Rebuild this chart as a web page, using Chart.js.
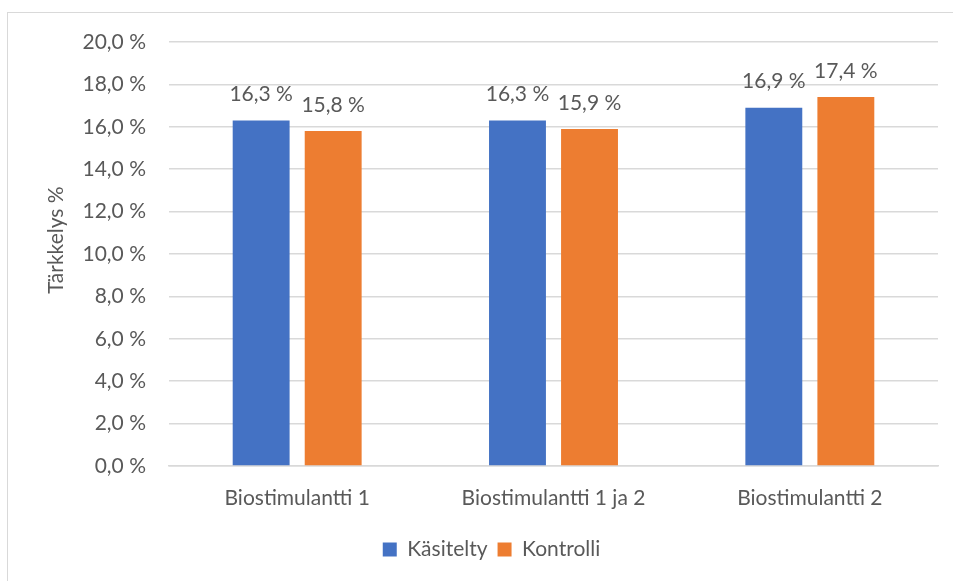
<!DOCTYPE html>
<html>
<head>
<meta charset="utf-8">
<script src="https://cdn.jsdelivr.net/npm/chart.js@4/dist/chart.umd.min.js"></script>
<style>
  html, body { margin: 0; padding: 0; background: #fff; overflow: hidden; }
  #frame { position: absolute; left: 7px; top: 12px; width: 1000px; height: 700px;
           border-left: 1px solid #d9d9d9; border-top: 1px solid #d9d9d9; }
  #wrap { position: absolute; left: 0; top: 0; width: 953px; height: 581px; }
</style>
</head>
<body>
<div id="frame"></div>
<div id="wrap"><canvas id="c" width="953" height="581"></canvas></div>
<script>
const categories = ['Biostimulantti 1', 'Biostimulantti 1 ja 2', 'Biostimulantti 2'];
const seriesNames = ['Käsitelty', 'Kontrolli'];
const kasitelty = [16.3, 16.3, 16.9];
const kontrolli = [15.8, 15.9, 17.4];
const yTicks = [0, 2, 4, 6, 8, 10, 12, 14, 16, 18, 20];
const yTitle = 'Tärkkelys %';

const FONT = 'Lato, "Open Sans", sans-serif';
const SIZE = 21;
const TEXT = '#595959';
const fmt = v => v.toFixed(1).replace('.', ',') + ' %';

// value labels above each bar
const valueLabels = {
  id: 'valueLabels',
  afterDatasetsDraw(chart) {
    const ctx = chart.ctx;
    ctx.save();
    ctx.font = SIZE + 'px ' + FONT;
    ctx.fillStyle = TEXT;
    ctx.textAlign = 'center';
    ctx.textBaseline = 'middle';
    chart.data.datasets.forEach((ds, i) => {
      chart.getDatasetMeta(i).data.forEach((bar, j) => {
        ctx.fillText(fmt(ds.data[j]), bar.x, bar.y - 26);
      });
    });
    ctx.restore();
  }
};

// rotated y-axis title
const axisTitle = {
  id: 'axisTitle',
  afterDraw(chart) {
    const ctx = chart.ctx;
    ctx.save();
    ctx.font = SIZE + 'px ' + FONT;
    ctx.fillStyle = TEXT;
    ctx.textAlign = 'center';
    ctx.textBaseline = 'middle';
    ctx.translate(56, 240);
    ctx.rotate(-Math.PI / 2);
    ctx.fillText(yTitle, 0, 0);
    ctx.restore();
  }
};

new Chart(document.getElementById('c'), {
  type: 'bar',
  data: {
    labels: categories,
    datasets: [
      { label: seriesNames[0], data: kasitelty, backgroundColor: '#4472C4' },
      { label: seriesNames[1], data: kontrolli, backgroundColor: '#ED7D31' }
    ]
  },
  options: {
    responsive: false,
    animation: false,
    layout: { padding: { top: 42, right: 15, bottom: 11, left: 45 } },
    datasets: { bar: { categoryPercentage: 0.562, barPercentage: 0.79 } },
    plugins: {
      tooltip: { enabled: false },
      legend: {
        position: 'bottom',
        labels: {
          boxWidth: 14, boxHeight: 14, padding: 10,
          color: TEXT, font: { family: FONT, size: SIZE }
        }
      }
    },
    scales: {
      x: {
        grid: { display: false, drawTicks: false },
        border: { display: true, color: '#d9d9d9', width: 1.5 },
        ticks: { color: TEXT, font: { family: FONT, size: SIZE }, padding: 20 },
        afterFit(s) { s.height = 63; }
      },
      y: {
        min: 0, max: 20,
        afterBuildTicks(s) { s.ticks = yTicks.map(v => ({ value: v })); },
        grid: { color: '#d9d9d9', lineWidth: 1.5, drawTicks: false },
        border: { display: false },
        ticks: { color: TEXT, font: { family: FONT, size: SIZE }, padding: 23, callback: v => fmt(v) },
        afterFit(s) { s.width = 124; }
      }
    }
  },
  plugins: [valueLabels, axisTitle]
});
</script>
</body>
</html>
